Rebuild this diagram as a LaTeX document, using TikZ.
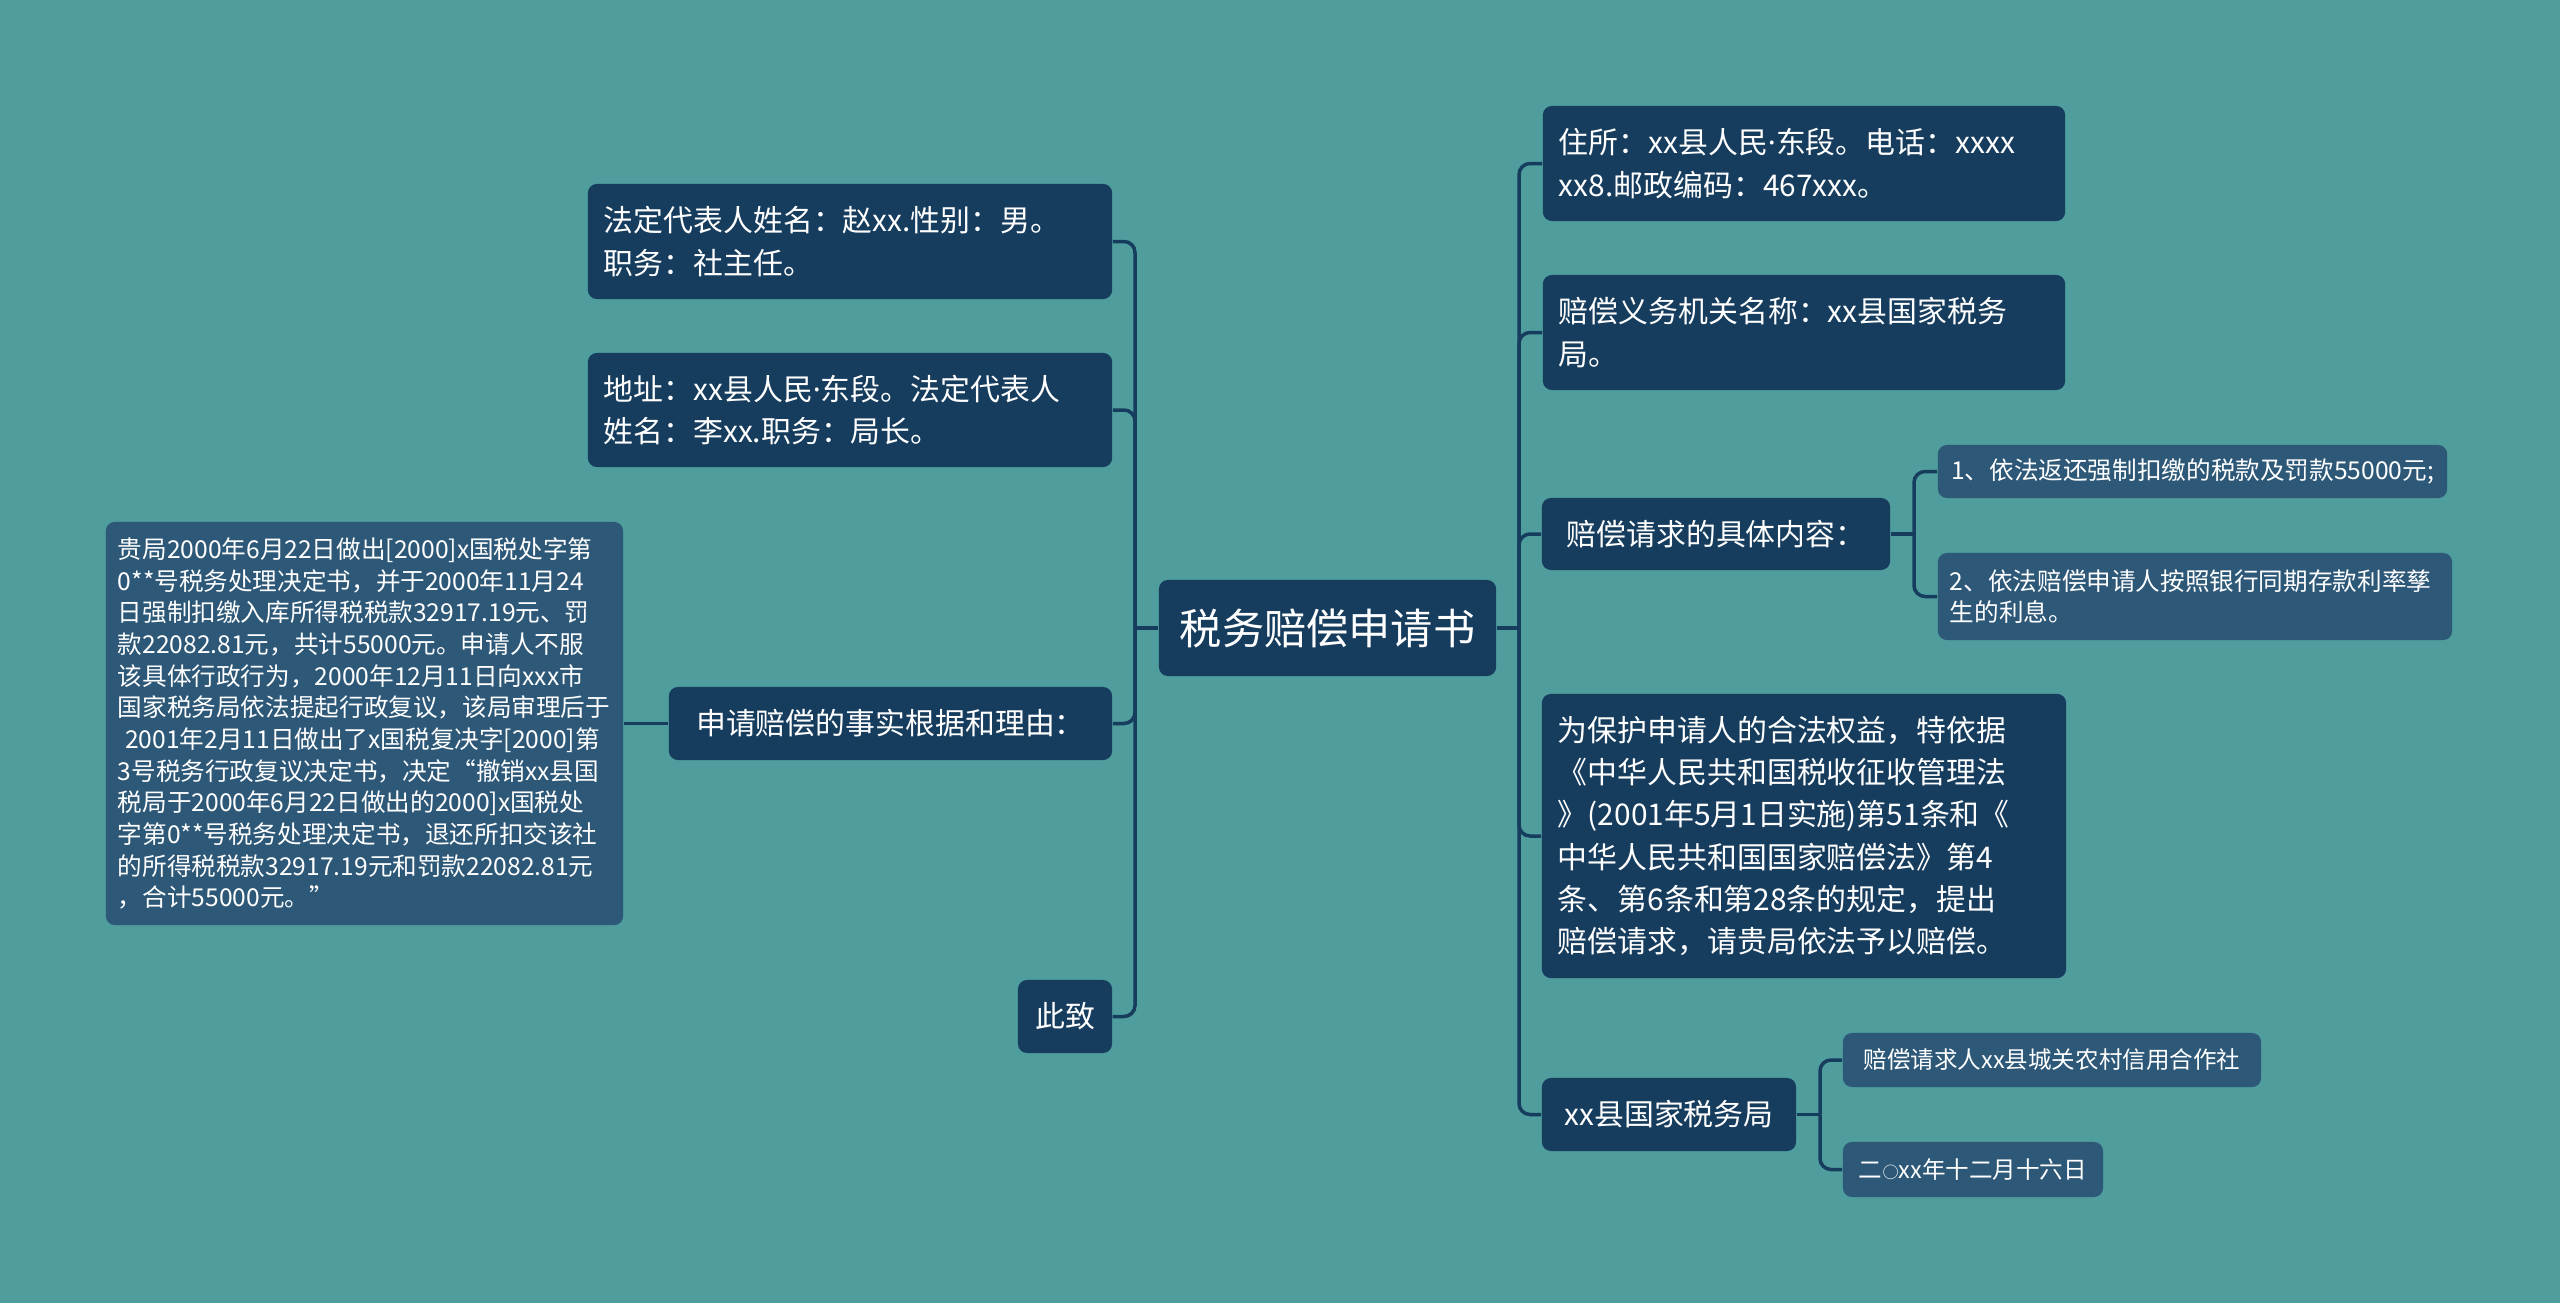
\documentclass[tikz,border=0pt]{standalone}
\usepackage{fontspec}
\usepackage{tikz}
\usepackage{xcolor}
\newfontfamily\cjk{Noto Sans CJK SC}
\newfontfamily\latinfont{Noto Sans}
\definecolor{mapbg}{HTML}{4F9D9D}
\definecolor{mapnode}{HTML}{173D5E}
\definecolor{mapleaf}{HTML}{2D5878}
\newcommand{\rootfont}{\cjk\fontsize{12}{14}\selectfont}
\newcommand{\topicfont}{\cjk\fontsize{8.5}{12}\selectfont}
\newcommand{\leaffont}{\cjk\fontsize{7}{9}\selectfont}
\newcommand{\smleaffont}{\cjk\fontsize{6.7}{9}\selectfont}
\newcommand{\middot}{{\latinfont ·}}
\newcommand{\ling}{{\fontsize{4.6}{9}\selectfont ○}}

\begin{document}
\begin{tikzpicture}[x=0.01cm,y=-0.01cm,
  topic/.style={fill=mapnode,text=white,rounded corners=0.09cm,font=\topicfont,inner xsep=0.16cm,inner ysep=0pt},
  leaf/.style={topic,fill=mapleaf,font=\leaffont,inner xsep=0.12cm},
  link/.style={draw=mapnode,line width=0.035cm,rounded corners=0.11cm}]
\fill[mapbg] (0,0) rectangle (2560,1303);
\useasboundingbox (0,0) rectangle (2560,1303);
\node[topic,font=\rootfont,minimum width=3.37cm,minimum height=0.96cm] (title) at (1327.5,628) {税务赔偿申请书};
\node[topic,text width=4.92cm,align=left,minimum height=1.15cm] (rep) at (850,241.5) {法定代表人姓名：赵xx.性别：男。\\职务：社主任。};
\node[topic,text width=4.92cm,align=left,minimum height=1.14cm] (addr) at (850,410) {地址：xx县人民\middot 东段。法定代表人\\姓名：李xx.职务：局长。};
\node[topic,minimum width=4.43cm,minimum height=0.73cm] (facts) at (890.5,723.5) {申请赔偿的事实根据和理由：};
\node[topic,minimum width=0.94cm,minimum height=0.73cm] (ending) at (1065,1016.5) {此致};
\node[leaf,text width=4.93cm,align=left,minimum height=4.03cm] (detail) at (364.5,723.5) {贵局2000年6月22日做出[2000]x国税处字第\\
0**号税务处理决定书，并于2000年11月24\\
日强制扣缴入库所得税税款32917.19元、罚\\
款22082.81元，共计55000元。申请人不服\\
该具体行政行为，2000年12月11日向xxx市\\
国家税务局依法提起行政复议，该局审理后于\\
\hspace*{0.3em}2001年2月11日做出了x国税复决字[2000]第\\
3号税务行政复议决定书，决定“撤销xx县国\\
税局于2000年6月22日做出的2000]x国税处\\
字第0**号税务处理决定书，退还所扣交该社\\
的所得税税款32917.19元和罚款22082.81元\\
，合计55000元。”};
\node[topic,text width=4.90cm,align=left,minimum height=1.15cm] (home) at (1804,163.5) {住所：xx县人民\middot 东段。电话：xxxx\\xx8.邮政编码：467xxx。};
\node[topic,text width=4.90cm,align=left,minimum height=1.15cm] (organ) at (1804,332.5) {赔偿义务机关名称：xx县国家税务\\局。};
\node[topic,minimum width=3.48cm,minimum height=0.72cm] (claim) at (1716,534) {赔偿请求的具体内容：};
\node[leaf,minimum width=5.09cm,minimum height=0.53cm] (claimA) at (2192.5,471.5) {1、依法返还强制扣缴的税款及罚款55000元;};
\node[leaf,text width=4.90cm,align=left,minimum height=0.87cm] (claimB) at (2195,596.5) {2、依法赔偿申请人按照银行同期存款利率孳\\生的利息。};
\node[topic,text width=4.92cm,align=left,minimum height=2.84cm] (basis) at (1804,836) {为保护申请人的合法权益，特依据\\
《中华人民共和国税收征收管理法\\
》(2001年5月1日实施)第51条和《\\
中华人民共和国国家赔偿法》第4\\
条、第6条和第28条的规定，提出\\
赔偿请求，请贵局依法予以赔偿。};
\node[topic,minimum width=2.54cm,minimum height=0.73cm] (office) at (1669,1114.5) {xx县国家税务局};
\node[leaf,font=\smleaffont,minimum width=4.18cm,minimum height=0.54cm] (officeA) at (2052,1060) {赔偿请求人xx县城关农村信用合作社};
\node[leaf,font=\smleaffont,minimum width=2.60cm,minimum height=0.55cm] (officeB) at (1973,1169.5) {二\ling xx年十二月十六日};
\coordinate (lfork) at (1135,628);
\coordinate (rfork) at (1519,628);
\coordinate (cfork) at (1914,534);
\coordinate (ofork) at (1820,1114.5);
\draw[link] (title.west) -- (lfork);
\draw[link] (title.east) -- (rfork);
\foreach \n in {rep,addr,facts,ending}
  \draw[link] (lfork) |- (\n.east);
\foreach \n in {home,organ,claim,basis,office}
  \draw[link] (rfork) |- (\n.west);
\draw[link] (detail.east) -- (facts.west);
\draw[link] (claim.east) -- (cfork);
\foreach \n in {claimA,claimB}
  \draw[link] (cfork) |- (\n.west);
\draw[link] (office.east) -- (ofork);
\foreach \n in {officeA,officeB}
  \draw[link] (ofork) |- (\n.west);
\end{tikzpicture}
\end{document}
